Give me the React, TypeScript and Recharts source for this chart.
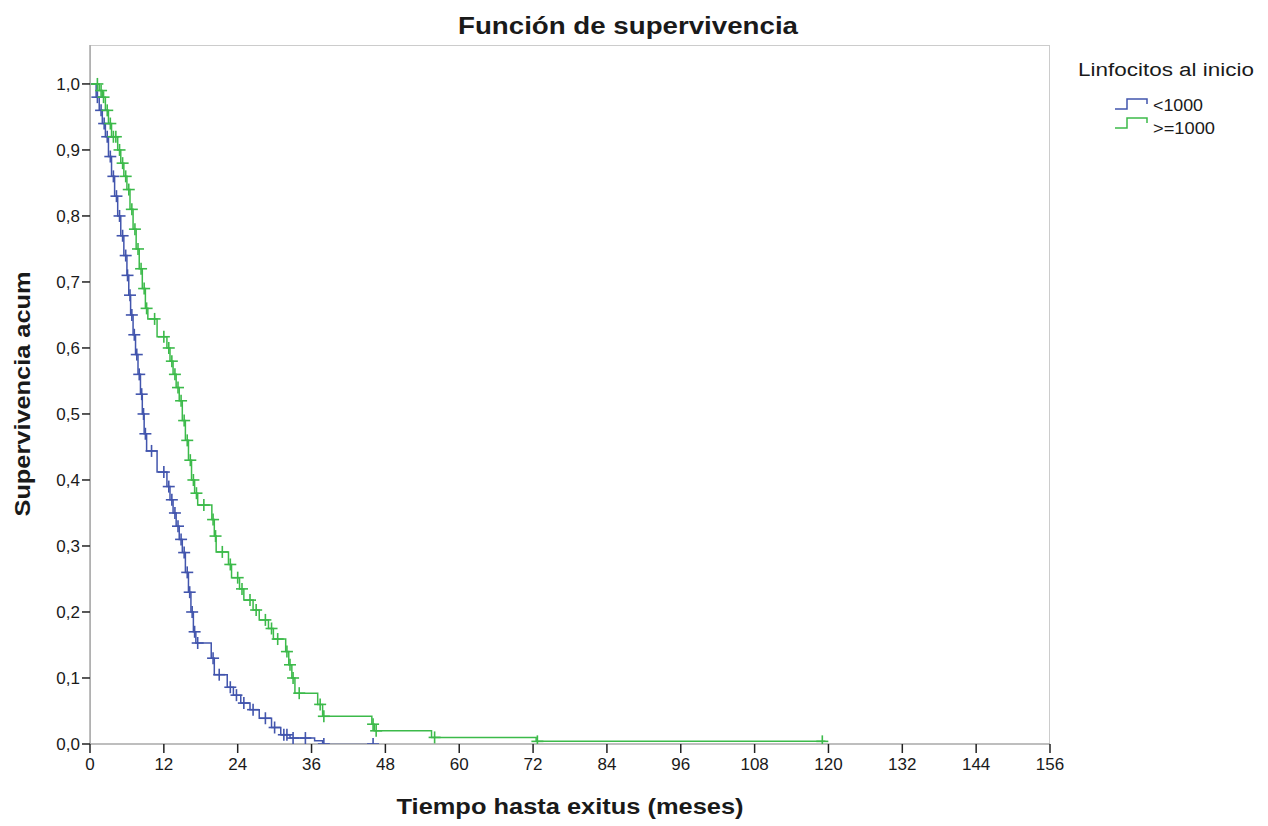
import { ComposedChart, Line, Scatter, XAxis, YAxis } from 'recharts';

// <1000 : step times (months) and survival after each step
const lowTimes = [0, 1.0, 1.5, 2.0, 2.5, 3.0, 3.5, 4.0, 4.5, 5.0, 5.5, 6.0, 6.3, 6.6, 7.0, 7.4, 7.8, 8.2, 8.5, 8.8, 9.2, 10.9, 12.5, 13.0, 13.5, 14.0, 14.5, 15.0, 15.5, 16.0, 16.4, 16.8, 17.2, 19.7, 20.2, 22.3, 23.3, 24.5, 26.0, 27.5, 29.5, 31.0, 32.5, 36.5, 37.8];
const lowSurv = [1.0, 0.98, 0.96, 0.94, 0.92, 0.89, 0.86, 0.83, 0.8, 0.77, 0.74, 0.71, 0.68, 0.65, 0.62, 0.59, 0.56, 0.53, 0.5, 0.47, 0.444, 0.412, 0.39, 0.37, 0.35, 0.33, 0.31, 0.29, 0.26, 0.23, 0.2, 0.17, 0.153, 0.13, 0.105, 0.086, 0.074, 0.062, 0.052, 0.039, 0.025, 0.014, 0.009, 0.005, 0.0];
const lowEnd = 46;
const lowCensored = [1.2, 1.8, 2.3, 2.8, 3.3, 3.8, 4.3, 4.8, 5.3, 5.8, 6.1, 6.5, 6.8, 7.2, 7.6, 8.0, 8.4, 8.7, 9.0, 10.0, 12.0, 12.8, 13.3, 13.8, 14.3, 14.8, 15.3, 15.8, 16.2, 16.6, 17.0, 17.5, 20.0, 21.0, 22.8, 23.8, 25.0, 26.5, 28.5, 30.0, 31.5, 32.0, 33.0, 35.0, 38.0, 46.0];

// >=1000
const highTimes = [0, 1.5, 2.0, 2.5, 3.0, 3.5, 4.5, 5.0, 5.5, 6.0, 6.5, 7.0, 7.5, 8.0, 8.5, 9.0, 9.4, 10.9, 12.5, 13.0, 13.5, 14.0, 14.5, 15.0, 15.5, 16.0, 16.5, 17.0, 17.5, 19.8, 20.2, 20.5, 22.5, 23.0, 24.3, 25.0, 26.5, 27.5, 29.0, 29.8, 31.8, 32.3, 32.8, 33.3, 37.0, 37.8, 45.8, 46.2, 55.5, 72.5];
const highSurv = [1.0, 0.99, 0.98, 0.96, 0.94, 0.92, 0.9, 0.88, 0.86, 0.84, 0.81, 0.78, 0.75, 0.72, 0.69, 0.66, 0.644, 0.617, 0.6, 0.58, 0.56, 0.54, 0.52, 0.49, 0.46, 0.43, 0.4, 0.38, 0.362, 0.34, 0.315, 0.291, 0.272, 0.252, 0.235, 0.218, 0.203, 0.188, 0.175, 0.159, 0.14, 0.12, 0.1, 0.077, 0.06, 0.042, 0.03, 0.02, 0.01, 0.004];
const highEnd = 119.5;
const highCensored = [1.2, 1.8, 2.2, 2.8, 3.3, 3.8, 4.2, 4.8, 5.3, 5.8, 6.3, 6.8, 7.3, 7.8, 8.3, 8.8, 9.2, 10.5, 12.0, 12.8, 13.3, 13.8, 14.3, 14.8, 15.3, 15.8, 16.3, 16.8, 17.3, 18.5, 20.0, 20.4, 21.5, 22.8, 24.0, 24.7, 26.0, 27.0, 28.5, 29.5, 30.5, 32.0, 32.5, 33.0, 34.0, 37.4, 38.0, 46.0, 46.5, 56.0, 72.7, 119.0];

const xTicks = [0, 12, 24, 36, 48, 60, 72, 84, 96, 108, 120, 132, 144, 156];
const yTicks = [0, 0.1, 0.2, 0.3, 0.4, 0.5, 0.6, 0.7, 0.8, 0.9, 1.0];

const BLUE = '#4255ad';
const GREEN = '#3cba4a';
const FONT = '"Liberation Sans", Arial, sans-serif';
const INK = '#1a1a1a';

function stepData(times: number[], surv: number[], end: number) {
  const rows = times.map((t, i) => ({ t, s: surv[i] }));
  rows.push({ t: end, s: surv[surv.length - 1] });
  return rows;
}

function censorData(times: number[], surv: number[], marks: number[]) {
  return marks.map((m) => {
    let s = surv[0];
    times.forEach((t, i) => {
      if (t <= m) s = surv[i];
    });
    return { t: m, s };
  });
}

function Plus(color: string) {
  return (props: any) => {
    const { cx, cy } = props;
    if (cx == null || cy == null) return <g />;
    return (
      <g stroke={color} strokeWidth={1.6}>
        <line x1={cx - 6} y1={cy} x2={cx + 6} y2={cy} />
        <line x1={cx} y1={cy - 6} x2={cx} y2={cy + 6} />
      </g>
    );
  };
}

function XTick(props: any) {
  const { x, y, payload } = props;
  return (
    <text x={x} y={y} dy={15} textAnchor="middle" fontSize={17} fill={INK} fontFamily={FONT}>
      {payload.value}
    </text>
  );
}

// step glyph used in the legend
function stepIcon(x: number, y: number, color: string) {
  const pts = `${x},${y} ${x + 12},${y} ${x + 12},${y - 10} ${x + 32},${y - 10} ${x + 32},${y - 5}`;
  return <polyline points={pts} fill="none" stroke={color} strokeWidth={1.5} />;
}

export default function App() {
  const lowLine = stepData(lowTimes, lowSurv, lowEnd);
  const highLine = stepData(highTimes, highSurv, highEnd);
  const lowMarks = censorData(lowTimes, lowSurv, lowCensored);
  const highMarks = censorData(highTimes, highSurv, highCensored);

  return (
    <div style={{ position: 'absolute', left: 0, top: 0, width: 1268, height: 826, background: '#fff', fontFamily: FONT }}>
      {/* plot frame */}
      <div style={{ position: 'absolute', left: 90, top: 45, width: 960, height: 699, border: '1px solid #cccccc', borderBottom: 'none', boxSizing: 'border-box', pointerEvents: 'none' }} />

      <ComposedChart
        width={1268}
        height={826}
        margin={{ top: 45, right: 218, bottom: 52, left: 30 }}
        style={{ position: 'absolute', left: 0, top: 0 }}
      >
        <XAxis
          type="number"
          dataKey="t"
          domain={[0, 156]}
          ticks={xTicks}
          interval={0}
          height={30}
          axisLine={{ stroke: '#a8a8a8', strokeWidth: 1.5 }}
          tickLine={{ stroke: '#222', strokeWidth: 1.5 }}
          tickSize={9}
          tick={<XTick />}
          allowDataOverflow
        />
        <YAxis
          type="number"
          dataKey="s"
          domain={[0, 1.059]}
          ticks={yTicks}
          interval={0}
          width={60}
          axisLine={{ stroke: '#a8a8a8', strokeWidth: 1.5 }}
          tickLine={{ stroke: '#222', strokeWidth: 1.5 }}
          tickSize={8}
          tickFormatter={(v: number) => v.toFixed(1).replace('.', ',')}
          tick={{ fill: INK, fontSize: 17, fontFamily: FONT }}
          allowDataOverflow
        />
        <Line
          data={lowLine}
          dataKey="s"
          type="stepAfter"
          stroke={BLUE}
          strokeWidth={1.5}
          dot={false}
          activeDot={false}
          isAnimationActive={false}
        />
        <Line
          data={highLine}
          dataKey="s"
          type="stepAfter"
          stroke={GREEN}
          strokeWidth={1.5}
          dot={false}
          activeDot={false}
          isAnimationActive={false}
        />
        <Scatter data={lowMarks} dataKey="s" shape={Plus(BLUE)} isAnimationActive={false} />
        <Scatter data={highMarks} dataKey="s" shape={Plus(GREEN)} isAnimationActive={false} />
      </ComposedChart>

      {/* titles and legend */}
      <svg width={1268} height={826} style={{ position: 'absolute', left: 0, top: 0, pointerEvents: 'none' }} fontFamily={FONT}>
        <text x={628} y={34} textAnchor="middle" fontSize={23} fontWeight="bold" fill={INK} textLength={340} lengthAdjust="spacingAndGlyphs">
          Función de supervivencia
        </text>
        <text x={570} y={814} textAnchor="middle" fontSize={22} fontWeight="bold" fill={INK} textLength={347} lengthAdjust="spacingAndGlyphs">
          Tiempo hasta exitus (meses)
        </text>
        <text
          x={0}
          y={0}
          transform="translate(30,394) rotate(-90)"
          textAnchor="middle"
          fontSize={22}
          fontWeight="bold"
          fill={INK}
          textLength={245}
          lengthAdjust="spacingAndGlyphs"
        >
          Supervivencia acum
        </text>

        <text x={1078} y={76} fontSize={18} fill={INK} textLength={176} lengthAdjust="spacingAndGlyphs">
          Linfocitos al inicio
        </text>
        {stepIcon(1115, 109, BLUE)}
        <text x={1153} y={111} fontSize={17} fill={INK} textLength={50} lengthAdjust="spacingAndGlyphs">
          &lt;1000
        </text>
        {stepIcon(1115, 128, GREEN)}
        <text x={1153} y={134} fontSize={17} fill={INK} textLength={62} lengthAdjust="spacingAndGlyphs">
          &gt;=1000
        </text>
      </svg>
    </div>
  );
}
